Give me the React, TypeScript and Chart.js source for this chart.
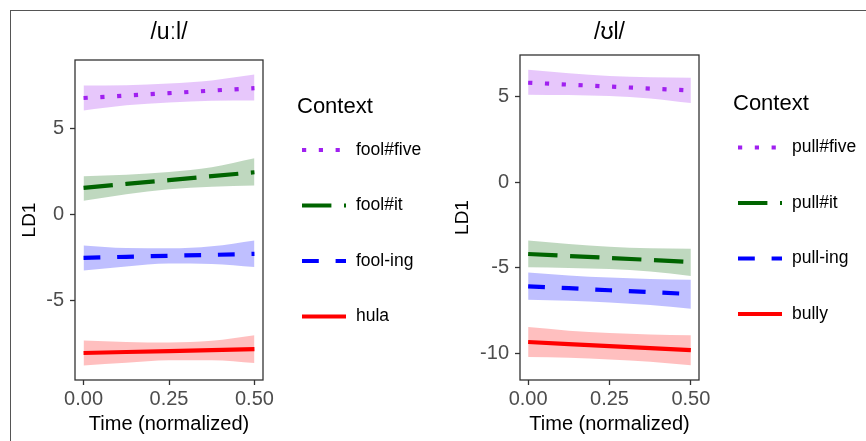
import React, { useEffect, useRef } from "react";
import { Chart, registerables } from "chart.js";

Chart.register(...registerables);

// ---------- data ----------
const timePoints = [0, 0.125, 0.25, 0.375, 0.5];
const xTicks = [0, 0.25, 0.5];

// Left panel: /uːl/
const leftTitle = "/uːl/";
const leftContexts = ["fool#five", "fool#it", "fool-ing", "hula"];
const leftYTicks = [-5, 0, 5];
const leftYRange = [-9.63, 8.99];

const foolFiveFit = [6.78, 6.92, 7.06, 7.21, 7.35];
const foolFiveUpper = [7.5, 7.52, 7.62, 7.8, 8.14];
const foolFiveLower = [6.05, 6.35, 6.52, 6.62, 6.63];

const foolItFit = [1.55, 1.78, 2.0, 2.23, 2.46];
const foolItUpper = [2.23, 2.32, 2.48, 2.75, 3.27];
const foolItLower = [0.8, 1.18, 1.47, 1.62, 1.69];

const foolIngFit = [-2.52, -2.46, -2.4, -2.35, -2.29];
const foolIngUpper = [-1.8, -1.95, -1.97, -1.85, -1.51];
const foolIngLower = [-3.26, -3.02, -2.85, -2.88, -3.06];

const hulaFit = [-8.06, -8.0, -7.95, -7.89, -7.83];
const hulaUpper = [-7.33, -7.42, -7.45, -7.35, -7.03];
const hulaLower = [-8.78, -8.62, -8.48, -8.48, -8.64];

// Right panel: /ʊl/
const rightTitle = "/ʊl/";
const rightContexts = ["pull#five", "pull#it", "pull-ing", "bully"];
const rightYTicks = [-10, -5, 0, 5];
const rightYRange = [-11.56, 7.42];

const pullFiveFit = [5.8, 5.69, 5.58, 5.46, 5.35];
const pullFiveUpper = [6.56, 6.35, 6.2, 6.12, 6.09];
const pullFiveLower = [5.1, 5.08, 5.02, 4.88, 4.61];

const pullItFit = [-4.2, -4.32, -4.43, -4.55, -4.67];
const pullItUpper = [-3.42, -3.62, -3.78, -3.87, -3.89];
const pullItLower = [-4.98, -5.02, -5.08, -5.22, -5.48];

const pullIngFit = [-6.09, -6.2, -6.32, -6.43, -6.54];
const pullIngUpper = [-5.28, -5.45, -5.58, -5.66, -5.7];
const pullIngLower = [-6.87, -6.93, -7.03, -7.18, -7.4];

const bullyFit = [-9.34, -9.46, -9.58, -9.7, -9.82];
const bullyUpper = [-8.47, -8.68, -8.82, -8.9, -8.95];
const bullyLower = [-10.22, -10.26, -10.36, -10.5, -10.7];

// ---------- styles ----------
const FONT = "'Liberation Sans', Arial, Helvetica, sans-serif";
const COLORS = ["#A020F0", "#006400", "#0000FF", "#FF0000"];
const FILLS = [
  "rgba(160,32,240,0.25)",
  "rgba(0,100,0,0.25)",
  "rgba(0,0,255,0.25)",
  "rgba(255,0,0,0.25)",
];
const LW = 4.2;
const DASHES = [
  [LW, LW * 3],
  [LW * 7, LW * 3],
  [LW * 4, LW * 4],
  [],
];

type Series = { fit: number[]; upper: number[]; lower: number[] };

type PanelCfg = {
  title: string;
  contexts: string[];
  yTicks: number[];
  yRange: number[];
  series: Series[];
  left: number;
  yAxisWidth: number;
  topPad: number;
  rightPad: number;
  legendTop: number;
};

const panels: PanelCfg[] = [
  {
    title: leftTitle,
    contexts: leftContexts,
    yTicks: leftYTicks,
    yRange: leftYRange,
    series: [
      { fit: foolFiveFit, upper: foolFiveUpper, lower: foolFiveLower },
      { fit: foolItFit, upper: foolItUpper, lower: foolItLower },
      { fit: foolIngFit, upper: foolIngUpper, lower: foolIngLower },
      { fit: hulaFit, upper: hulaUpper, lower: hulaLower },
    ],
    left: 0,
    yAxisWidth: 75,
    topPad: 60,
    rightPad: 170,
    legendTop: 106.5,
  },
  {
    title: rightTitle,
    contexts: rightContexts,
    yTicks: rightYTicks,
    yRange: rightYRange,
    series: [
      { fit: pullFiveFit, upper: pullFiveUpper, lower: pullFiveLower },
      { fit: pullItFit, upper: pullItUpper, lower: pullItLower },
      { fit: pullIngFit, upper: pullIngUpper, lower: pullIngLower },
      { fit: bullyFit, upper: bullyUpper, lower: bullyLower },
    ],
    left: 433,
    yAxisWidth: 87,
    topPad: 55,
    rightPad: 167,
    legendTop: 104,
  },
];

const toXY = (ys: number[]) => ys.map((y, i) => ({ x: timePoints[i], y }));

function makeDecor(cfg: PanelCfg) {
  return {
    id: "decor",
    afterDraw(chart: any) {
      const { ctx, chartArea: a } = chart;
      ctx.save();
      ctx.strokeStyle = "#333333";
      ctx.lineWidth = 1.3;
      ctx.setLineDash([]);
      ctx.strokeRect(a.left, a.top, a.right - a.left, a.bottom - a.top);

      ctx.fillStyle = "#000";
      ctx.font = `23px ${FONT}`;
      ctx.textAlign = "center";
      ctx.textBaseline = "middle";
      ctx.fillText(cfg.title, (a.left + a.right) / 2, 33);

      const lx = a.right + 34;
      ctx.textAlign = "left";
      ctx.font = `22px ${FONT}`;
      ctx.fillText("Context", lx, cfg.legendTop);
      cfg.contexts.forEach((label, i) => {
        const y = cfg.legendTop + 43.5 + i * 55.5;
        ctx.beginPath();
        ctx.setLineDash(DASHES[i]);
        ctx.lineCap = "butt";
        ctx.strokeStyle = COLORS[i];
        ctx.lineWidth = LW;
        ctx.moveTo(lx + 5, y);
        ctx.lineTo(lx + 49, y);
        ctx.stroke();
        ctx.setLineDash([]);
        ctx.font = `17.5px ${FONT}`;
        ctx.fillStyle = "#000";
        ctx.fillText(label, lx + 59, y);
      });
      ctx.restore();
    },
  };
}

function Panel({ cfg }: { cfg: PanelCfg }) {
  const ref = useRef<HTMLCanvasElement | null>(null);
  useEffect(() => {
    if (!ref.current) return;
    const datasets: any[] = [];
    cfg.series.forEach((s, i) => {
      datasets.push({
        label: cfg.contexts[i] + " upper",
        data: toXY(s.upper),
        borderWidth: 0,
        borderColor: "rgba(0,0,0,0)",
        pointRadius: 0,
        fill: false,
        cubicInterpolationMode: "monotone",
        order: 2,
      });
      datasets.push({
        label: cfg.contexts[i] + " lower",
        data: toXY(s.lower),
        borderWidth: 0,
        borderColor: "rgba(0,0,0,0)",
        backgroundColor: FILLS[i],
        pointRadius: 0,
        fill: "-1",
        cubicInterpolationMode: "monotone",
        order: 2,
      });
      datasets.push({
        label: cfg.contexts[i],
        data: toXY(s.fit),
        borderColor: COLORS[i],
        borderWidth: LW,
        borderDash: DASHES[i],
        borderCapStyle: "butt",
        pointRadius: 0,
        fill: false,
        order: 1,
      });
    });

    const tickFont = { family: FONT, size: 20 };
    const chart = new Chart(ref.current, {
      type: "line",
      data: { datasets },
      options: {
        responsive: false,
        animation: false,
        events: [],
        layout: { padding: { top: cfg.topPad, right: cfg.rightPad, left: 0, bottom: 0 } },
        plugins: {
          legend: { display: false },
          title: { display: false },
          tooltip: { enabled: false },
        },
        scales: {
          x: {
            type: "linear",
            min: -0.025,
            max: 0.525,
            afterBuildTicks: (s: any) => {
              s.ticks = xTicks.map((v) => ({ value: v }));
            },
            afterFit: (s: any) => {
              s.height = 61;
            },
            ticks: {
              callback: (v: any) => Number(v).toFixed(2),
              color: "#4D4D4D",
              font: tickFont,
              padding: 2,
              maxRotation: 0,
              autoSkip: false,
            },
            grid: {
              display: true,
              drawOnChartArea: false,
              drawTicks: true,
              tickLength: 5,
              tickColor: "#333333",
              tickWidth: 1.3,
            },
            border: { display: false },
            title: {
              display: true,
              text: "Time (normalized)",
              color: "#000",
              font: { family: FONT, size: 20 },
              padding: { top: 0, bottom: 5 },
            },
          },
          y: {
            type: "linear",
            min: cfg.yRange[0],
            max: cfg.yRange[1],
            afterBuildTicks: (s: any) => {
              s.ticks = cfg.yTicks.map((v) => ({ value: v }));
            },
            afterFit: (s: any) => {
              s.width = cfg.yAxisWidth;
            },
            ticks: {
              callback: (v: any) => String(v),
              color: "#4D4D4D",
              font: tickFont,
              padding: 6,
              autoSkip: false,
            },
            grid: {
              display: true,
              drawOnChartArea: false,
              drawTicks: true,
              tickLength: 5,
              tickColor: "#333333",
              tickWidth: 1.3,
            },
            border: { display: false },
            title: {
              display: true,
              text: "LD1",
              color: "#000",
              font: { family: FONT, size: 19 },
              padding: { top: 18.6, bottom: 0 },
            },
          },
        },
      } as any,
      plugins: [makeDecor(cfg)],
    });
    return () => chart.destroy();
  }, [cfg]);

  return (
    <canvas
      ref={ref}
      width={433}
      height={441}
      style={{ position: "absolute", left: cfg.left, top: 0, width: 433, height: 441 }}
    />
  );
}

export default function App() {
  return (
    <div
      style={{
        position: "fixed",
        left: 0,
        top: 0,
        width: 866,
        height: 441,
        background: "#fff",
        overflow: "hidden",
      }}
    >
      <div
        style={{
          position: "absolute",
          left: 10,
          top: 10,
          width: 900,
          height: 500,
          borderLeft: "1.5px solid #555",
          borderTop: "1.5px solid #555",
        }}
      />
      {panels.map((p) => (
        <Panel key={p.title} cfg={p} />
      ))}
    </div>
  );
}
